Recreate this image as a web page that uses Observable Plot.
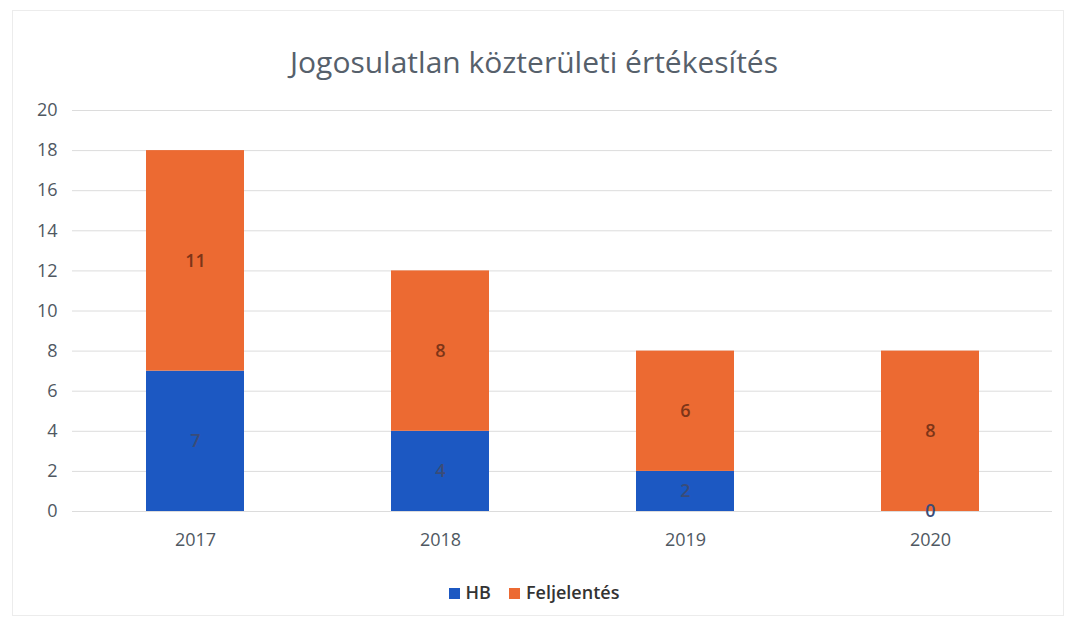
<!DOCTYPE html>
<html>
<head>
<meta charset="utf-8">
<script src="https://cdn.jsdelivr.net/npm/d3@7"></script>
<script src="https://cdn.jsdelivr.net/npm/@observablehq/plot@0.6"></script>
<style>
  html, body { margin: 0; padding: 0; background: #fff; }
  body { width: 1068px; height: 621px; overflow: hidden; font-family: "Open Sans", "Noto Sans", sans-serif; position: relative; }
  #frame { position: absolute; left: 12px; top: 10px; width: 1052px; height: 606px; border: 1px solid #ececec; box-sizing: border-box; }
  #title { position: absolute; left: 0; top: 42px; width: 1068px; text-align: center; font-size: 30px; line-height: 40px; color: #56606b; }
  #chart { position: absolute; left: 0; top: 90px; }
  #legend { position: absolute; left: 0; top: 579px; width: 1068px; text-align: center; font-size: 18px; font-weight: 600; line-height: 26px; color: #333; }
  .sw { display: inline-block; width: 11px; height: 11px; margin-right: 6px; vertical-align: 0px; }
  .item { display: inline-block; margin: 0 9px; }
</style>
</head>
<body>
<div id="frame"></div>
<div id="title">Jogosulatlan közterületi értékesítés</div>
<div id="chart"></div>
<div id="legend"></div>
<script>
const years = ["2017", "2018", "2019", "2020"];
const seriesNames = ["HB", "Feljelentés"];
const hbValues = [7, 4, 2, 0];
const feljelentesValues = [11, 8, 6, 8];
const yTicks = [0, 2, 4, 6, 8, 10, 12, 14, 16, 18, 20];
const colors = ["#1c58c2", "#ec6a32"];
const labelColors = ["#3a4c78", "#7d3518"];

const data = [];
years.forEach((y, i) => data.push({year: y, series: seriesNames[0], value: hbValues[i]}));
years.forEach((y, i) => data.push({year: y, series: seriesNames[1], value: feljelentesValues[i]}));

const plot = Plot.plot({
  width: 1068,
  height: 470,
  marginTop: 20,
  marginBottom: 49,
  marginLeft: 72,
  marginRight: 16,
  style: { fontFamily: "'Open Sans', 'Noto Sans', sans-serif", fontSize: "18px", color: "#4f5862", background: "transparent" },
  x: { domain: years, paddingInner: 0.6, paddingOuter: 0.3, label: null, tickSize: 0, tickPadding: 22 },
  y: { domain: [0, 20], ticks: yTicks, label: null, tickSize: 0, tickPadding: 15 },
  color: { domain: seriesNames, range: colors },
  marks: [
    Plot.gridY(yTicks, { stroke: "#dcdcdc", strokeOpacity: 1, strokeWidth: 1 }),
    Plot.barY(data, Plot.stackY({ x: "year", y: "value", z: "series", fill: "series" })),
    Plot.text(data, Plot.stackY({
      x: "year", y: "value", z: "series",
      text: d => String(d.value),
      fill: d => labelColors[seriesNames.indexOf(d.series)],
      fontSize: 18,
      fontWeight: 600
    }))
  ]
});
document.getElementById("chart").appendChild(plot);

const legend = document.getElementById("legend");
seriesNames.forEach((name, i) => {
  const item = document.createElement("span");
  item.className = "item";
  const sw = document.createElement("span");
  sw.className = "sw";
  sw.style.background = colors[i];
  item.appendChild(sw);
  item.appendChild(document.createTextNode(name));
  legend.appendChild(item);
});
</script>
</body>
</html>
